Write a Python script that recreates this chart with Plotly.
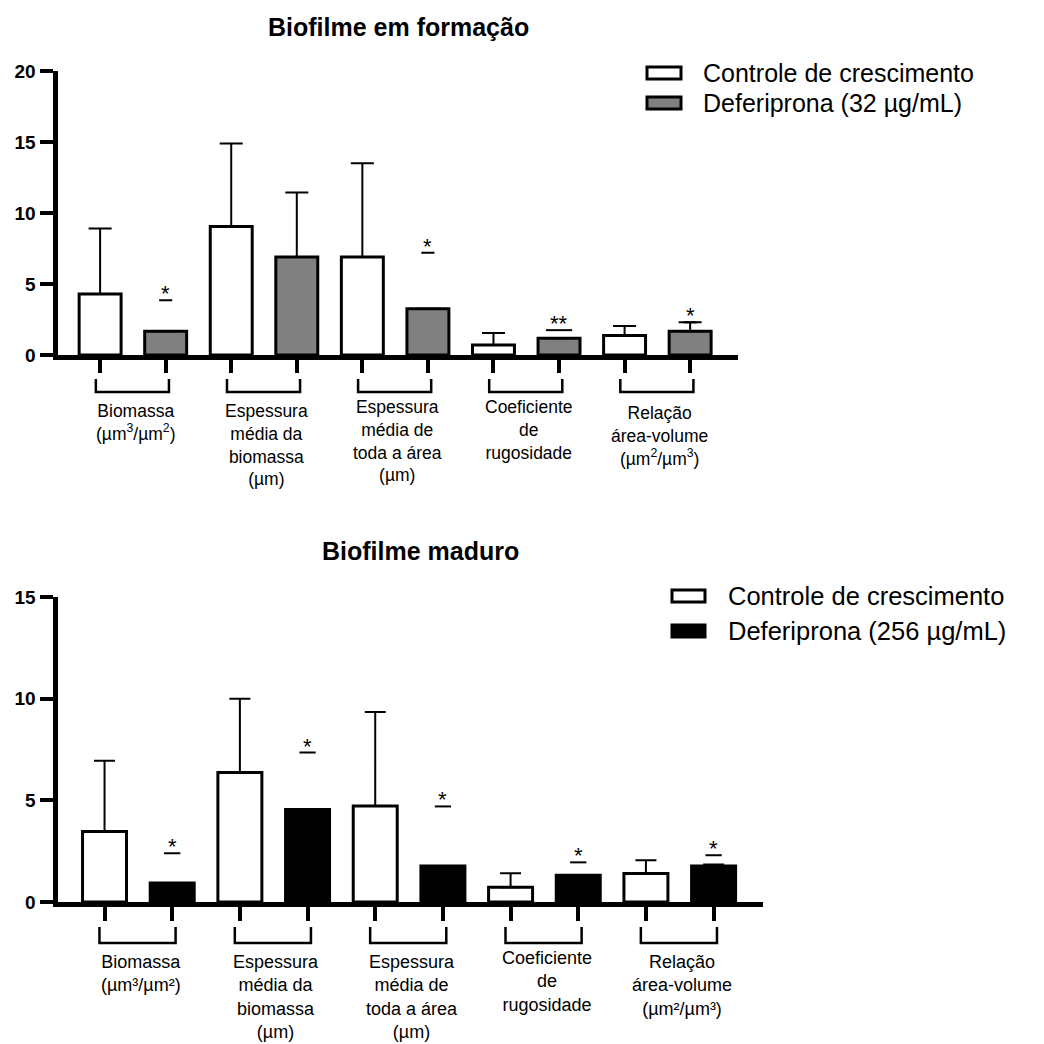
import plotly.graph_objects as go

# ---------------- data ----------------
labels_form = [
    "Biomassa<br>(µm<sup>3</sup>/µm<sup>2</sup>)",
    "Espessura<br>média da<br>biomassa<br>(µm)",
    "Espessura<br>média de<br>toda a área<br>(µm)",
    "Coeficiente<br>de<br>rugosidade",
    "Relação<br>área-volume<br>(µm<sup>2</sup>/µm<sup>3</sup>)",
]
labels_mature = [
    "Biomassa<br>(µm³/µm²)",
    "Espessura<br>média da<br>biomassa<br>(µm)",
    "Espessura<br>média de<br>toda a área<br>(µm)",
    "Coeficiente<br>de<br>rugosidade",
    "Relação<br>área-volume<br>(µm²/µm³)",
]

# Biofilme em formação
form_control = [4.3, 9.05, 6.9, 0.7, 1.38]
form_control_err = [4.6, 5.85, 6.6, 0.85, 0.67]
form_dfp = [1.68, 6.9, 3.25, 1.18, 1.68]
form_dfp_err = [None, 4.55, None, None, 0.62]
form_sig = ["*", "", "*", "**", "*"]
form_sig_y = [3.85, None, 7.2, 1.75, 2.3]

# Biofilme maduro
mat_control = [3.47, 6.37, 4.72, 0.72, 1.4]
mat_control_err = [3.48, 3.63, 4.63, 0.7, 0.65]
mat_dfp = [0.93, 4.55, 1.77, 1.32, 1.77]
mat_dfp_err = [None, None, None, None, 0.08]
mat_sig = ["*", "*", "*", "*", "*"]
mat_sig_y = [2.4, 7.35, 4.7, 1.95, 2.3]

legend_form = ["Controle de crescimento", "Deferiprona (32 µg/mL)"]
legend_mat = ["Controle de crescimento", "Deferiprona (256 µg/mL)"]
titles = ["Biofilme em formação", "Biofilme maduro"]
yticks_form = [0, 5, 10, 15, 20]
yticks_mat = [0, 5, 10, 15]

# ---------------- layout helpers ----------------
W = H = 1044
OFF = 8  # page body margin: figure is drawn 8 px from the window's corner
FONT = "Liberation Sans, Arial, Helvetica, sans-serif"


def px(x):
    return (x - OFF) / W


def py(y):
    return 1 - (y - OFF) / H


n = len(form_control)
xc = [2 * i for i in range(n)]
xd = [2 * i + 1 for i in range(n)]

fig = go.Figure()


def add_bars(ctrl, ctrl_err, dfp, dfp_err, dfp_color, width, xa, ya, capw):
    fig.add_trace(go.Bar(
        x=xc, y=ctrl, width=width, xaxis=xa, yaxis=ya, showlegend=False,
        name="Controle de crescimento",
        marker=dict(color="white", line=dict(color="black", width=3)),
        error_y=dict(type="data", symmetric=False, array=ctrl_err,
                     arrayminus=[0] * n, color="black", thickness=2, width=capw),
    ))
    fig.add_trace(go.Bar(
        x=xd, y=dfp, width=width, xaxis=xa, yaxis=ya, showlegend=False,
        name="Deferiprona",
        marker=dict(color=dfp_color, line=dict(color="black", width=3)),
        error_y=dict(type="data", symmetric=False,
                     array=[e if e is not None else 0 for e in dfp_err],
                     arrayminus=[0] * n, color="black", thickness=2, width=capw),
    ))


add_bars(form_control, form_control_err, form_dfp, form_dfp_err, "#808080", 0.64, "x", "y", 11.5)
add_bars(mat_control, mat_control_err, mat_dfp, mat_dfp_err, "black", 0.65, "x2", "y2", 10.5)

axis_common = dict(showline=True, linecolor="black", linewidth=5, showgrid=False,
                   zeroline=False, ticks="outside", tickcolor="black", fixedrange=True,
                   automargin=False)
tickfont = dict(family=FONT, size=19, weight="bold", color="black")

fig.update_layout(
    template="none",
    width=W, height=H, margin=dict(l=0, r=0, t=0, b=0, pad=0), autosize=False,
    paper_bgcolor="white", plot_bgcolor="white", barmode="overlay",
    font=dict(family=FONT, color="black"), showlegend=False,
    xaxis=dict(domain=[px(57.5), px(738)], range=[-0.65, 9.73], anchor="y",
               tickvals=list(range(10)), showticklabels=False, ticklen=13, tickwidth=4,
               **axis_common),
    yaxis=dict(domain=[py(355), py(71)], range=[0, 20], anchor="x",
               tickvals=yticks_form, ticklen=13, tickwidth=4, tickfont=tickfont,
               **axis_common),
    xaxis2=dict(domain=[px(57.5), px(763)], range=[-0.695, 9.73], anchor="y2",
                tickvals=list(range(10)), showticklabels=False, ticklen=14, tickwidth=4,
                **axis_common),
    yaxis2=dict(domain=[py(902), py(597)], range=[0, 15], anchor="x2",
                tickvals=yticks_mat, ticklen=13, tickwidth=4, tickfont=tickfont,
                **axis_common),
)

shapes = []
annotations = []


# brackets + category labels
def add_brackets(labels, xa, top, bot, dl, dr, label_y, fsize):
    for i, lab in enumerate(labels):
        x0 = xc[i] - dl
        x1 = xd[i] + dr
        shapes.append(dict(type="path", xref=xa, yref="paper",
                           path=f"M{x0},{py(top)} L{x0},{py(bot)} L{x1},{py(bot)} L{x1},{py(top)}",
                           line=dict(color="black", width=2.5)))
        annotations.append(dict(x=(xc[i] + xd[i]) / 2 + 0.04, xref=xa, y=py(label_y[i]), yref="paper",
                                text=lab, showarrow=False, xanchor="center", yanchor="top",
                                align="center", font=dict(family=FONT, size=fsize, color="black")))


add_brackets(labels_form, "x", 379, 392, 0.065, 0.05, [399, 399, 395, 395, 401], 17.5)
add_brackets(labels_mature, "x2", 927, 943, 0.075, 0.05, [950, 950, 950, 946, 950], 18)


# significance marks
def add_sig(sig, sig_y, xa, ya, hw):
    for i, s in enumerate(sig):
        if not s:
            continue
        x = xd[i]
        y = sig_y[i]
        w = hw * len(s)
        shapes.append(dict(type="line", xref=xa, yref=ya, x0=x - w, x1=x + w, y0=y, y1=y,
                           line=dict(color="black", width=2)))
        annotations.append(dict(x=x, xref=xa, y=y, yref=ya, text=s, showarrow=False,
                                xanchor="center", yanchor="bottom", yshift=-8,
                                font=dict(family=FONT, size=22, color="black")))


add_sig(form_sig, form_sig_y, "x", "y", 0.1)
add_sig(mat_sig, mat_sig_y, "x2", "y2", 0.12)

# titles
annotations.append(dict(x=px(398), y=py(27), xref="paper", yref="paper", text=titles[0],
                        showarrow=False, xanchor="center", yanchor="middle",
                        font=dict(family=FONT, size=25, weight="bold", color="black")))
annotations.append(dict(x=px(420), y=py(551), xref="paper", yref="paper", text=titles[1],
                        showarrow=False, xanchor="center", yanchor="middle",
                        font=dict(family=FONT, size=25, weight="bold", color="black")))


# legends
def add_legend(items, fills, bx0, bx1, ys, tx, fsize):
    for lab, fill, yy in zip(items, fills, ys):
        shapes.append(dict(type="rect", xref="paper", yref="paper",
                           x0=px(bx0), x1=px(bx1), y0=py(yy - 6), y1=py(yy + 6),
                           fillcolor=fill, line=dict(color="black", width=3)))
        annotations.append(dict(x=px(tx), y=py(yy), xref="paper", yref="paper", text=lab,
                                showarrow=False, xanchor="left", yanchor="middle",
                                font=dict(family=FONT, size=fsize, color="black")))


add_legend(legend_form, ["white", "#808080"], 647, 681, [73, 103], 701, 25)
add_legend(legend_mat, ["white", "black"], 672, 705, [596, 631], 726, 25.5)

fig.update_layout(shapes=shapes, annotations=annotations)

fig.write_html("out.html")
